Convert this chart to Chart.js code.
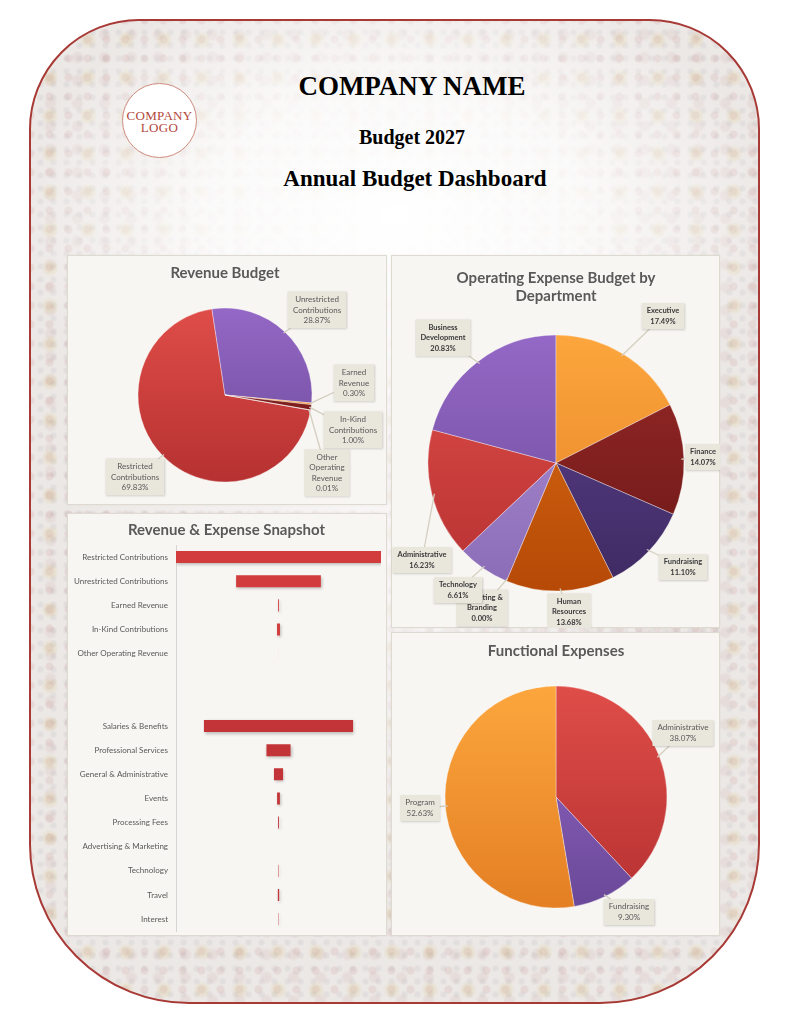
<!DOCTYPE html>
<html>
<head>
<meta charset="utf-8">
<title>Annual Budget Dashboard</title>
<script src="https://cdn.jsdelivr.net/npm/chart.js@4.4.1/dist/chart.umd.min.js"></script>
<style>
  body { margin: 0; background: #fff; }
  #page { position: relative; width: 790px; height: 1024px; overflow: hidden; background: #fff; }
  #frame {
    position: absolute; left: 29px; top: 19px; width: 731px; height: 985px;
    border: 2px solid #a83a36;
    border-radius: 110px 110px 160px 160px;
    background-color: #ece8e6;
    background-image:
      radial-gradient(ellipse 52% 26% at 50% 20%, rgba(255,255,255,1) 0%, rgba(255,255,255,0.8) 50%, rgba(255,255,255,0) 100%),
      radial-gradient(ellipse 45% 40% at 50% 55%, rgba(255,255,255,0.7) 0%, rgba(255,255,255,0) 100%),
      radial-gradient(circle at 50% 50%, rgba(205,175,80,0.14) 0 5px, rgba(0,0,0,0) 9px),
      radial-gradient(circle at 50% 50%, rgba(170,85,80,0.11) 0 3px, rgba(0,0,0,0) 5px),
      radial-gradient(circle at 50% 50%, rgba(120,120,135,0.09) 0 2px, rgba(0,0,0,0) 4px),
      radial-gradient(circle at 50% 50%, rgba(165,90,85,0.08) 0 4px, rgba(0,0,0,0) 7px);
    background-size: 100% 100%, 100% 100%, 38px 38px, 19px 19px, 13px 13px, 27px 23px;
    background-position: 0 0, 0 0, 0 0, 9px 9px, 3px 5px, 6px 2px;
    box-sizing: border-box;
  }
  .head { position: absolute; left: 212px; width: 400px; text-align: center; color: #000;
          font-family: "Liberation Serif", "DejaVu Serif", serif; font-weight: bold; white-space: nowrap; }
  #logo { position: absolute; left: 122px; top: 83px; width: 75px; height: 75px; border-radius: 50%;
          background: #fff; border: 1px solid #cf8b7c; box-sizing: border-box;
          font-family: "Liberation Serif", serif; color: #b3473c; font-size: 13px; line-height: 12px;
          text-align: center; letter-spacing: 0.3px; }
  .panel { position: absolute; background: #f8f6f2; border: 1px solid #dedad2; box-sizing: border-box;
           box-shadow: 0 0 2px rgba(0,0,0,0.06); }
  .panel canvas { position: absolute; left: -1px; top: -1px; }
</style>
</head>
<body>
<div id="page">
  <div id="frame"></div>
  <div id="logo"><div style="margin-top:26px">COMPANY</div><div>LOGO</div></div>
  <div class="head" style="top:70px;font-size:27px;line-height:32px;">COMPANY NAME</div>
  <div class="head" style="top:125px;font-size:20px;line-height:24px;">Budget 2027</div>
  <div class="head" style="top:165px;left:215px;font-size:23px;line-height:28px;">Annual Budget Dashboard</div>

  <div class="panel" style="left:67px;top:255px;width:320px;height:250px;"><canvas id="revChart" width="320" height="250"></canvas></div>
  <div class="panel" style="left:391px;top:255px;width:329px;height:373px;"><canvas id="opChart" width="329" height="373"></canvas></div>
  <div class="panel" style="left:67px;top:513px;width:320px;height:423px;"><canvas id="snapChart" width="320" height="423"></canvas></div>
  <div class="panel" style="left:391px;top:632px;width:329px;height:304px;"><canvas id="funcChart" width="329" height="304"></canvas></div>
</div>

<script>
// ---- data ----
const revenueCategories = ['Restricted\nContributions', 'Unrestricted\nContributions', 'Earned\nRevenue', 'In-Kind\nContributions', 'Other\nOperating\nRevenue'];
const revenueShares = [69.83, 28.87, 0.30, 1.00, 0.01];

const departments = ['Administrative', 'Business\nDevelopment', 'Executive', 'Finance', 'Fundraising', 'Human\nResources', 'Marketing &\nBranding', 'Technology'];
const departmentShares = [16.23, 20.83, 17.49, 14.07, 11.10, 13.68, 0.00, 6.61];

const functionNames = ['Administrative', 'Fundraising', 'Program'];
const functionShares = [38.07, 9.30, 52.63];

const snapshotRevenue = ['Restricted Contributions', 'Unrestricted Contributions', 'Earned Revenue', 'In-Kind Contributions', 'Other Operating Revenue'];
const snapshotRevenueAmounts = [698300, 288700, 3000, 10000, 100];
const snapshotExpenses = ['Salaries & Benefits', 'Professional Services', 'General & Administrative', 'Events', 'Processing Fees', 'Advertising & Marketing', 'Technology', 'Travel', 'Interest'];
const snapshotExpenseAmounts = [508000, 82000, 31000, 9500, 3000, 0, 1500, 4500, 1200];

// ---- styles ----
const C = {
  red: ['#df4d48', '#b63131'],
  purple: ['#9468c6', '#6a4898'],
  orange: ['#fca63d', '#e47f24'],
  darkRed: ['#982a28', '#691616'],
  darkPurple: ['#5d418d', '#3e2a62'],
  darkOrange: ['#da6e14', '#b64906'],
  lightRed: ['#ea8480', '#cf6060'],
  lightPurple: ['#af92d6', '#8a6bb6']
};
const textGrey = '#595959';
const uiFont = 'Lato, "Open Sans", sans-serif';

// callout labels drawn next to each slice
const callouts = {
  id: 'callouts',
  afterDatasetsDraw(chart, args, opts) {
    if (!opts.offsets) return;
    const ctx = chart.ctx;
    const meta = chart.getDatasetMeta(0);
    const values = chart.data.datasets[0].data;
    ctx.save();
    ctx.font = opts.font;
    meta.data.forEach((arc, i) => {
      const off = opts.offsets[i];
      const p = arc.getProps(['x', 'y', 'startAngle', 'endAngle', 'outerRadius'], true);
      const mid = (p.startAngle + p.endAngle) / 2;
      const tx = p.x + Math.cos(mid) * p.outerRadius * 0.98;
      const ty = p.y + Math.sin(mid) * p.outerRadius * 0.98;
      const bx = p.x + off[0], by = p.y + off[1];
      const lines = chart.data.labels[i].split('\n').concat(values[i].toFixed(2) + '%');
      const lh = 10.5;
      const w = Math.max(...lines.map(l => ctx.measureText(l).width)) + 10;
      const h = lines.length * lh + 5;
      // leader
      ctx.strokeStyle = '#d3cebf';
      ctx.lineWidth = 1.3;
      ctx.beginPath();
      ctx.moveTo(bx, by);
      ctx.lineTo(tx, ty);
      ctx.stroke();
      // box
      ctx.shadowColor = 'rgba(0,0,0,0.18)';
      ctx.shadowBlur = 2;
      ctx.shadowOffsetX = 0.5;
      ctx.shadowOffsetY = 0.5;
      ctx.fillStyle = '#e9e6dc';
      ctx.fillRect(bx - w / 2, by - h / 2, w, h);
      ctx.shadowColor = 'rgba(0,0,0,0)';
      ctx.fillStyle = opts.color;
      ctx.textAlign = 'center';
      ctx.textBaseline = 'middle';
      lines.forEach((l, k) => {
        ctx.fillText(l, bx, by - h / 2 + 2.5 + lh * (k + 0.5));
      });
    });
    ctx.restore();
  }
};

function sliceFill(colors, radius) {
  return (c) => {
    const a = c.chart.chartArea;
    const pair = colors[c.dataIndex];
    if (!a) return pair[0];
    const cy = (a.top + a.bottom) / 2;
    const g = c.chart.ctx.createLinearGradient(0, cy - radius, 0, cy + radius);
    g.addColorStop(0, pair[0]);
    g.addColorStop(1, pair[1]);
    return g;
  };
}

function makePie(id, labels, values, colors, o) {
  return new Chart(document.getElementById(id), {
    type: 'pie',
    data: {
      labels: labels,
      datasets: [{
        data: values,
        backgroundColor: sliceFill(colors, o.radius),
        borderColor: 'rgba(255,255,255,0.35)',
        borderWidth: 1,
        hoverOffset: 0
      }]
    },
    options: {
      responsive: false,
      animation: false,
      rotation: o.rotation,
      radius: o.radius,
      layout: { padding: o.padding },
      plugins: {
        legend: { display: false },
        tooltip: { enabled: false },
        title: {
          display: true,
          text: o.title,
          color: textGrey,
          font: { family: uiFont, size: 15, weight: 'bold', lineHeight: 1.2 },
          padding: o.titlePadding
        },
        callouts: { offsets: o.offsets, font: o.labelFont, color: o.labelColor }
      }
    },
    plugins: [callouts]
  });
}

makePie('revChart', revenueCategories, revenueShares,
  [C.red, C.purple, C.orange, C.darkRed, C.darkPurple], {
    title: 'Revenue Budget', rotation: 100, radius: 87,
    padding: { left: 0, right: 4, top: 0, bottom: 0 },
    titlePadding: { top: 9, bottom: 3 },
    offsets: [[-90, 82], [92, -85], [129, -12], [128, 35], [102, 78]],
    labelFont: '8px ' + uiFont, labelColor: textGrey
  });

makePie('opChart', departments, departmentShares,
  [C.red, C.purple, C.orange, C.darkRed, C.darkPurple, C.darkOrange, C.lightRed, C.lightPurple], {
    title: ['Operating Expense Budget by', 'Department'], rotation: -133.4, radius: 128,
    padding: { left: 1, right: 0, top: 0, bottom: 7 },
    titlePadding: { top: 14, bottom: 0 },
    offsets: [[-134, 97], [-113, -125], [107, -147], [147, -6], [127, 104], [13, 149], [-74, 145], [-98, 127]],
    labelFont: 'bold 7.5px ' + uiFont, labelColor: '#3a3a3a'
  });

makePie('funcChart', functionNames, functionShares,
  [C.red, C.purple, C.orange], {
    title: 'Functional Expenses', rotation: 0, radius: 111,
    padding: { left: 1, right: 0, top: 0, bottom: 2 },
    titlePadding: { top: 10, bottom: 0 },
    offsets: [[127, -64], [73, 115], [-136, 11]],
    labelFont: '8px ' + uiFont, labelColor: textGrey
  });

// ---- snapshot: centred (funnel style) floating bars ----
const snapLabels = snapshotRevenue.concat([' ', '  '], snapshotExpenses);
const snapValues = snapshotRevenueAmounts.concat([null, null], snapshotExpenseAmounts);
const snapMax = Math.max(...snapValues.filter(v => v != null));
const snapBars = snapValues.map(v => v == null ? null : [(snapMax - v) / 2, (snapMax + v) / 2]);
const snapColors = snapValues.map((v, i) => i < snapshotRevenue.length ? '#d23c3c' : '#c23438');

const barShadow = {
  id: 'barShadow',
  beforeDatasetsDraw(chart) {
    const ctx = chart.ctx;
    ctx.save();
    ctx.shadowColor = 'rgba(0,0,0,0.25)';
    ctx.shadowBlur = 3;
    ctx.shadowOffsetX = 1;
    ctx.shadowOffsetY = 1.5;
  },
  afterDatasetsDraw(chart) { chart.ctx.restore(); }
};

new Chart(document.getElementById('snapChart'), {
  type: 'bar',
  data: {
    labels: snapLabels,
    datasets: [{
      data: snapBars,
      backgroundColor: snapColors,
      barPercentage: 0.5,
      categoryPercentage: 1,
      borderSkipped: false
    }]
  },
  options: {
    indexAxis: 'y',
    responsive: false,
    animation: false,
    layout: { padding: { left: 5, right: 6, top: 0, bottom: 0 } },
    plugins: {
      legend: { display: false },
      tooltip: { enabled: false },
      title: {
        display: true,
        text: 'Revenue & Expense Snapshot',
        color: textGrey,
        font: { family: uiFont, size: 15, weight: 'bold', lineHeight: 1.2 },
        padding: { top: 8, bottom: 6 }
      }
    },
    scales: {
      x: { display: false, min: 0, max: snapMax },
      y: {
        grid: { display: false },
        border: { display: true, color: '#d6d6d6' },
        ticks: { color: textGrey, font: { family: uiFont, size: 8 }, padding: 0, autoSkip: false },
        afterFit: (s) => { s.width = 104; }
      }
    }
  },
  plugins: [barShadow]
});
</script>
</body>
</html>
